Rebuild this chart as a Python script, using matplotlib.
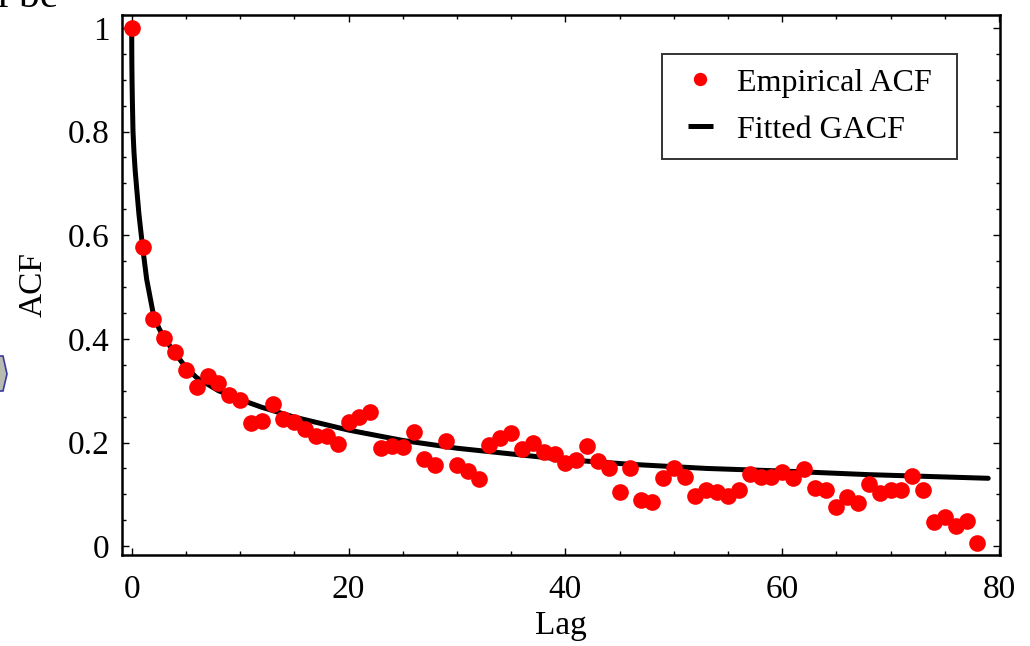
import matplotlib
matplotlib.use('Agg')
import matplotlib.pyplot as plt
from matplotlib.lines import Line2D
from matplotlib.patches import Polygon
from matplotlib.ticker import MultipleLocator

plt.rcParams['font.family'] = ['Liberation Serif', 'DejaVu Serif']

# empirical ACF, one value per lag 0..78
lags = list(range(79))
acf = [1.000, 0.577, 0.438, 0.401, 0.374, 0.339, 0.308, 0.328, 0.315, 0.291,
       0.283, 0.238, 0.241, 0.274, 0.245, 0.239, 0.227, 0.213, 0.212, 0.197,
       0.239, 0.250, 0.258, 0.189, 0.193, 0.191, 0.220, 0.168, 0.156, 0.202,
       0.156, 0.145, 0.129, 0.195, 0.208, 0.219, 0.187, 0.199, 0.182, 0.178,
       0.160, 0.167, 0.194, 0.164, 0.151, 0.104, 0.150, 0.090, 0.086, 0.131,
       0.150, 0.133, 0.097, 0.109, 0.105, 0.097, 0.108, 0.139, 0.133, 0.133,
       0.143, 0.131, 0.148, 0.113, 0.108, 0.076, 0.094, 0.084, 0.119, 0.103,
       0.109, 0.109, 0.136, 0.109, 0.047, 0.057, 0.039, 0.049, 0.006]

# fitted GACF curve
fit_lag = [0, 0.005, 0.015, 0.03, 0.06, 0.12, 0.21, 0.32, 0.46, 0.67, 1.0,
           1.38, 2.0, 2.5, 3.0, 4, 5, 6, 8, 10, 12, 15, 20, 25, 30, 35, 40,
           46, 53, 60, 68, 79]
fit_acf = [1.0, 0.96, 0.93, 0.90, 0.86, 0.80, 0.76, 0.725, 0.69, 0.64, 0.578,
           0.515, 0.447, 0.421, 0.402, 0.372, 0.345, 0.325, 0.300, 0.283,
           0.268, 0.249, 0.224, 0.204, 0.189, 0.178, 0.167, 0.158, 0.150,
           0.145, 0.138, 0.131]

fig = plt.figure(figsize=(10.3, 6.46), dpi=100)
ax = fig.add_axes([0.1184, 0.1409, 0.8526, 0.8359])

ax.plot(fit_lag, fit_acf, color='black', lw=3.6, solid_capstyle='round',
        solid_joinstyle='round', zorder=2)
ax.plot(lags, acf, 'o', color='#ff0000', markersize=12, markeredgewidth=0,
        zorder=3)

ax.set_xlim(-0.9, 80.1)
ax.set_ylim(-0.017, 1.025)
ax.xaxis.set_major_locator(MultipleLocator(20))
ax.xaxis.set_minor_locator(MultipleLocator(5))
ax.yaxis.set_major_locator(MultipleLocator(0.2))
ax.yaxis.set_minor_locator(MultipleLocator(0.05))
ax.set_yticks([0, 0.2, 0.4, 0.6, 0.8, 1.0])
ax.set_yticklabels(['0', '0.2', '0.4', '0.6', '0.8', '1'])

ax.tick_params(which='both', direction='in', top=True, right=True,
               labelsize=24, width=1)
ax.tick_params(which='major', length=5)
ax.tick_params(which='minor', length=3)
ax.tick_params(axis='x', which='major', pad=14)
ax.tick_params(axis='y', which='major', pad=9)
for s in ax.spines.values():
    s.set_linewidth(1.8)

ax.set_xlabel('Lag', fontsize=24, labelpad=4)
ax.set_ylabel('ACF', fontsize=24, labelpad=14)

# legend: short thick dash for the curve, smaller dot for the points
h_pts = Line2D([], [], ls='None', marker='o', color='#ff0000', markersize=9.6, mew=0)
h_fit = Line2D([], [], ls='None', marker='_', color='black', markersize=18, mew=3.6)
leg = ax.legend([h_pts, h_fit], ['Empirical ACF', 'Fitted GACF'],
                loc='upper left', bbox_to_anchor=(0.615, 0.918, 0.336, 0.01),
                mode='expand', fontsize=23, frameon=True, fancybox=False,
                edgecolor='black', handlelength=1.5, handletextpad=0.4,
                borderpad=0.45, borderaxespad=0, labelspacing=0.55)
leg.get_frame().set_linewidth(1.4)

# bits of the surrounding page that got cropped in
fig.text(-0.003, 1 - 7 / 646, 'l be', fontsize=30, va='baseline')
fig.patches.append(Polygon([[-8, 272], [-4, 255], [3, 255], [7, 272], [3, 290], [-4, 290]],
                           closed=True, transform=None, facecolor='#b8bcb0',
                           edgecolor='#3a3aa0', lw=1.2))

fig.savefig('out.png', dpi=100)
